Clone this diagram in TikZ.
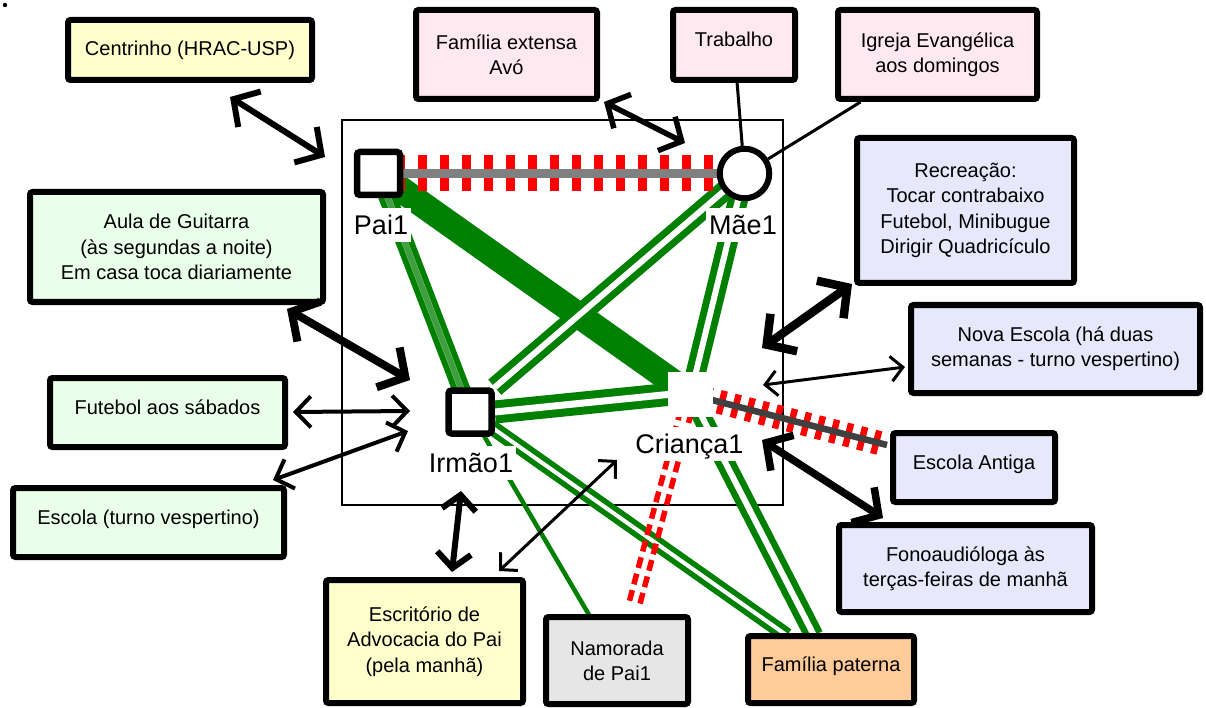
\documentclass[tikz,border=0pt]{standalone}
\usepackage{fontspec}
\setmainfont{Liberation Sans}
\usetikzlibrary{arrows.meta,calc,backgrounds}

\definecolor{grn}{RGB}{0,128,0}
\definecolor{bxyellow}{RGB}{255,255,204}
\definecolor{bxpink}{RGB}{255,233,240}
\definecolor{bxblue}{RGB}{232,232,252}
\definecolor{bxgreen}{RGB}{234,255,234}
\definecolor{bxgray}{RGB}{230,230,230}
\definecolor{bxpeach}{RGB}{255,204,153}
\definecolor{tiegray}{RGB}{128,128,128}
\definecolor{tiedark}{RGB}{64,64,64}

\newcommand\bxfont{\fontsize{20}{25.3}\selectfont}
\newcommand\lbfont{\fontsize{27}{30}\selectfont}

\begin{document}
\begin{tikzpicture}[x=1pt,y=-1pt,
  box/.style={draw=black, line width=6pt, rounded corners=2.5pt, align=center,
    font=\bxfont, inner sep=0pt},
  one/.style={text height=14pt, text depth=10pt},
  person/.style={draw=black, line width=6.5pt, fill=white, rounded corners=3pt,
    minimum size=43pt, inner sep=0pt},
  lbl/.style={fill=white, font=\lbfont, inner xsep=3pt, inner ysep=7pt,
    text height=19.5pt, text depth=0pt},
  bar/.style n args={3}{line width=#1,
    {Straight Barb[length=#2,width=#3]}-{Straight Barb[length=#2,width=#3]}},
  dbl/.style 2 args={draw=grn, line width=#1, double=white, double distance=#2},
  triple/.style={draw=grn, line width=18pt,
    postaction={draw=white, draw opacity=0.45, line width=0.6pt, double=grn, double distance=5.4pt}},
  reddash/.style={draw=red, line width=5.5pt, dash pattern=on 11pt off 6pt},
]
\useasboundingbox (0,0) rectangle (1206,708);
\fill (5,5) circle (2.2pt);

% surrounding boxes
\node[box, fill=bxyellow, minimum width=244pt, minimum height=60pt] (centrinho) at (190,50) {Centrinho (HRAC-USP)};
\node[box, fill=bxpink, minimum width=181pt, minimum height=89pt] (famext) at (506.5,54.5) {Família extensa\\Avó};
\node[box, one, fill=bxpink, minimum width=122pt, minimum height=70pt] (trabalho) at (734,45) {Trabalho};
\node[box, fill=bxpink, minimum width=199pt, minimum height=89pt] (igreja) at (937.5,54.5) {Igreja Evangélica\\aos domingos};
\node[box, fill=bxblue, minimum width=217pt, minimum height=145pt] (recreacao) at (965.5,210.5) {Recreação:\\Tocar contrabaixo\\Futebol, Minibugue\\Dirigir Quadricículo};
\node[box, fill=bxblue, minimum width=289pt, minimum height=88pt] (novaescola) at (1055.5,349) {Nova Escola (há duas\\semanas - turno vespertino)};
\node[box, one, fill=bxblue, minimum width=162pt, minimum height=69pt] (escantiga) at (974,467.5) {Escola Antiga};
\node[box, fill=bxblue, minimum width=253pt, minimum height=87pt] (fono) at (965.5,568.5) {Fonoaudióloga às\\terças-feiras de manhã};
\node[box, fill=bxgreen, minimum width=293pt, minimum height=110pt] (guitarra) at (176.5,247) {Aula de Guitarra\\(às segundas a noite)\\Em casa toca diariamente};
\node[box, one, fill=bxgreen, minimum width=235pt, minimum height=69pt] (futebol) at (167.5,412.5) {Futebol aos sábados};
\node[box, one, fill=bxgreen, minimum width=271pt, minimum height=69pt] (escola) at (148.5,522.5) {Escola (turno vespertino)};
\node[box, fill=bxyellow, minimum width=197pt, minimum height=123pt] (escritorio) at (424.5,641.5) {Escritório de\\Advocacia do Pai\\(pela manhã)};
\node[box, fill=bxgray, minimum width=142pt, minimum height=87pt] (namorada) at (617,660.5) {Namorada\\de Pai1};
\node[box, one, fill=bxpeach, minimum width=166pt, minimum height=67pt] (fampat) at (831,669.5) {Família paterna};

% family members
\node[person] (pai) at (378.5,173.5) {};
\node[draw=black, line width=6pt, fill=white, circle, minimum size=49.5pt, inner sep=0pt] (mae) at (744.5,173.5) {};
\node[person] (irmao) at (470,412) {};
\node[fill=white, minimum size=45pt, inner sep=0pt] (crianca) at (690.5,394.5) {};

\node[lbl] (pailbl) at (381,225) {Pai1};
\node[lbl] (maelbl) at (743,225) {Mãe1};
\node[lbl] (irmaolbl) at (471,463) {Irmão1};
\node[lbl] (criancalbl) at (689.5,444) {Criança1};

% household frame and relationship lines
\begin{scope}[on background layer]
  \draw[line width=1.3pt] (342,120) rectangle (783,505);
  \draw[grn, line width=26pt] (pai.center) -- (crianca.center);
  \draw[triple] (pai.center) -- (irmao.center);
  \draw[dbl={7pt}{6pt}] (mae.center) -- (irmao.north east);
  \draw[dbl={7pt}{6pt}] (mae.center) -- (crianca.center);
  \draw[dbl={8pt}{7pt}, shorten >=-3pt] (irmao.east) -- (crianca.west);
  \draw[dbl={5.5pt}{4pt}] (irmao.center) -- ($(fampat)+(-44,-34)$);
  \draw[dbl={6.5pt}{6pt}] (crianca.center) -- ($(fampat)+(-17,-34)$);
  \draw[grn, line width=4.5pt] (irmao.center) -- ($(namorada)+(-27,-44)$);
  % broken ties
  \draw[red, line width=36pt, dash pattern=on 8.3pt off 13.7pt, dash phase=4.2pt] (pai.center) -- (mae.center);
  \draw[tiegray, line width=9.5pt] (pai.center) -- (mae.center);
  \draw[red, line width=24pt, dash pattern=on 6.5pt off 8pt] (crianca.center) -- ($(escantiga)+(-87,-22.5)$);
  \draw[tiedark, line width=6.5pt] (crianca.center) -- ($(escantiga)+(-87,-22.5)$);
  % distant tie
  \draw[reddash, transform canvas={shift={(5.3,1.4)}}] (crianca.center) -- ($(namorada)+(17,-55.5)$);
  \draw[reddash, transform canvas={shift={(-5.3,-1.4)}}] (crianca.center) -- ($(namorada)+(17,-55.5)$);
\end{scope}

% plain links
\draw[line width=3pt] (trabalho) -- (mae);
\draw[line width=3pt] (igreja) -- (mae);

% exchanges
\draw[bar={6pt}{19pt}{42pt}] ($(centrinho)+(40,47)$) -- ($(pai)+(-53.5,-16.5)$);
\draw[bar={5.5pt}{17pt}{38pt}] ($(famext)+(97.5,47.5)$) -- ($(mae)+(-59.5,-30.5)$);
\draw[bar={8pt}{20pt}{46pt}] ($(guitarra)+(110.5,62)$) -- ($(irmao)+(-60,-32)$);
\draw[bar={4pt}{15pt}{31pt}] ($(futebol)+(125.5,-0.5)$) -- ($(irmao)+(-60,-1)$);
\draw[bar={4pt}{15pt}{31pt}] ($(escola)+(124.5,-42.5)$) -- ($(irmao)+(-62,19)$);
\draw[bar={6pt}{15pt}{34pt}] ($(irmao)+(-9,79)$) -- ($(escritorio)+(27.5,-69.5)$);
\draw[bar={3pt}{12pt}{25pt}] ($(crianca)+(-73.5,65.5)$) -- ($(escritorio)+(74.5,-70.5)$);
\draw[bar={8.5pt}{21pt}{46pt}] ($(recreacao)+(-113.5,73.5)$) -- ($(crianca)+(71.5,-46.5)$);
\draw[bar={3pt}{12pt}{25pt}] ($(novaescola)+(-150.5,18)$) -- ($(crianca)+(72.5,-9.5)$);
\draw[bar={7.5pt}{19pt}{42pt}] ($(fono)+(-82.5,-50.5)$) -- ($(crianca)+(71.5,45.5)$);
\end{tikzpicture}
\end{document}
